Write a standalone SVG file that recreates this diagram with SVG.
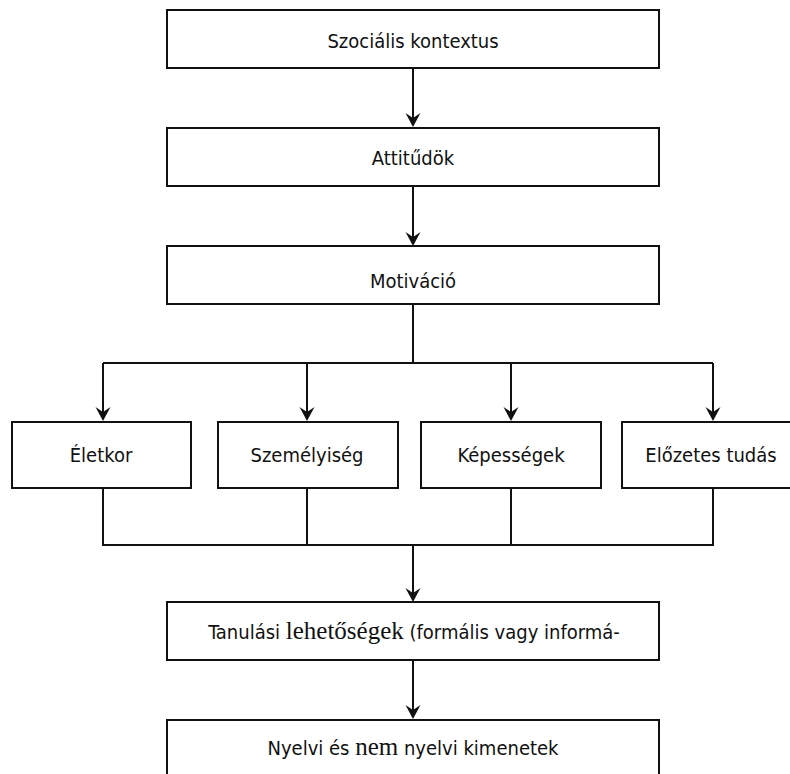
<svg xmlns="http://www.w3.org/2000/svg" width="790" height="774" viewBox="0 0 790 774">
  <style>
    .box { fill: #ffffff; stroke: #111111; stroke-width: 2; }
    .lbl { font-family: "DejaVu Sans Condensed", "DejaVu Sans", sans-serif; font-size: 20px; fill: #111111; text-anchor: middle; }
    .ser { font-family: "Liberation Serif", serif; font-size: 25px; }
    .con { fill: none; stroke: #111111; stroke-width: 2; }
    .arr { fill: none; stroke: #111111; stroke-width: 2; marker-end: url(#ah); }
  </style>
  <defs>
    <marker id="ah" viewBox="-16 -9 18 18" refX="-6" refY="0" markerWidth="18" markerHeight="18" markerUnits="userSpaceOnUse" orient="auto">
      <path d="M0,0 L-14,-7.5 L-9,0 L-14,7.5 Z" fill="#111111"/>
    </marker>
  </defs>
  <rect width="790" height="774" fill="#ffffff"/>

  <g id="connectors">
    <path class="arr" d="M413,68 V121"/>
    <path class="arr" d="M413,186 V240"/>
    <path class="con" d="M413,304 V363 M103,363 H713"/>
    <path class="arr" d="M103,363 V415"/>
    <path class="arr" d="M307,363 V415"/>
    <path class="arr" d="M511,363 V415"/>
    <path class="arr" d="M713,363 V415"/>
    <path class="con" d="M103,488 V545 M307,488 V545 M511,488 V545 M713,488 V545 M102,545 H714"/>
    <path class="arr" d="M413,545 V596"/>
    <path class="arr" d="M413,660 V713"/>
  </g>

  <g id="n-szocialis">
    <rect class="box" x="167" y="10" width="492" height="58"/>
    <text class="lbl" x="413" y="48">Szociális kontextus</text>
  </g>
  <g id="n-attitudok">
    <rect class="box" x="167" y="128" width="492" height="58"/>
    <text class="lbl" x="413" y="165">Attitűdök</text>
  </g>
  <g id="n-motivacio">
    <rect class="box" x="167" y="246" width="492" height="58"/>
    <text class="lbl" x="413" y="288">Motiváció</text>
  </g>
  <g id="n-eletkor">
    <rect class="box" x="12" y="422" width="179" height="66"/>
    <text class="lbl" x="101" y="462">Életkor</text>
  </g>
  <g id="n-szemelyiseg">
    <rect class="box" x="218" y="422" width="180" height="66"/>
    <text class="lbl" x="307" y="462">Személyiség</text>
  </g>
  <g id="n-kepessegek">
    <rect class="box" x="421" y="422" width="180" height="66"/>
    <text class="lbl" x="511" y="462">Képességek</text>
  </g>
  <g id="n-elozetes">
    <rect class="box" x="622" y="422" width="182" height="66"/>
    <text class="lbl" x="711" y="462">Előzetes tudás</text>
  </g>
  <g id="n-tanulasi">
    <rect class="box" x="167" y="602" width="492" height="58"/>
    <text class="lbl" x="414" y="639">Tanulási <tspan class="ser">lehetőségek</tspan> (formális vagy informá-</text>
  </g>
  <g id="n-nyelvi">
    <rect class="box" x="167" y="720" width="492" height="80"/>
    <text class="lbl" x="413" y="755">Nyelvi és <tspan class="ser">nem</tspan> nyelvi kimenetek</text>
  </g>
</svg>
